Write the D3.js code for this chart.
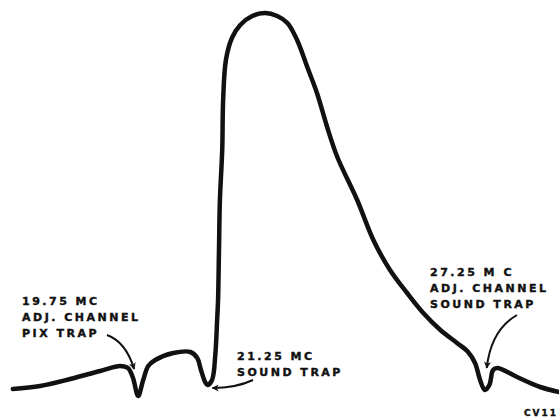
<!DOCTYPE html>
<html>
<head>
<meta charset="utf-8">
<script src="https://cdn.jsdelivr.net/npm/d3@7"></script>
<style>
  body { margin: 0; background: #fff; }
  .label { font-family: "DejaVu Sans", sans-serif; font-weight: bold; font-size: 11px; letter-spacing: 2.5px; fill: #111; stroke: #111; stroke-width: 0.4px; }
</style>
</head>
<body>
<div id="chart"></div>
<script>
// IF response curve, frequency in MC vs relative response
const freqs = [17.04, 17.63, 18.28, 18.93, 19.36, 19.53, 19.64, 19.75, 19.86, 19.97,
  20.12, 20.51, 20.88, 21.03, 21.11, 21.20, 21.25, 21.35, 21.42, 21.46,
  21.48, 21.50, 21.52, 21.57, 21.59, 21.65, 21.78, 21.96, 22.22, 22.50,
  22.76, 22.98, 23.19, 23.41, 23.62, 23.84, 24.06, 24.49, 24.84, 25.20,
  25.57, 25.92, 26.29, 26.65, 26.89, 27.04, 27.15, 27.25, 27.35, 27.43,
  27.52, 27.95, 28.45, 28.86];
const response = [5.25, 6, 7.75, 9.75, 11, 10.5, 8, 3.5, 7.5, 11,
  12.5, 14.25, 14.5, 13, 10, 7, 6.25, 7.5, 13.75, 22.5,
  27.5, 40, 52.5, 65, 77.5, 87.5, 93, 96.25, 98.5, 99.25,
  98.5, 96.75, 92.5, 85.75, 79.25, 70.75, 63.25, 52.5, 42.5, 35,
  29.25, 24.25, 20, 16.75, 14.5, 11.75, 7.5, 5, 6.25, 10,
  10.5, 8.25, 5.75, 4.5];

const trapFreqs = [19.75, 21.25, 27.25];
const trapLabels = [
  ["19.75 MC", "ADJ. CHANNEL", "PIX TRAP"],
  ["21.25 MC", "SOUND TRAP"],
  ["27.25 M C", "ADJ. CHANNEL", "SOUND TRAP"]
];

const width = 559, height = 417;

const x = d3.scaleLinear().domain([17.0, 28.9]).range([11, 561]);
const y = d3.scaleLinear().domain([0, 100]).range([410, 10]);

const svg = d3.select("#chart").append("svg")
    .attr("width", width)
    .attr("height", height);

svg.append("defs").append("marker")
    .attr("id", "head")
    .attr("viewBox", "0 0 10 10")
    .attr("refX", 9)
    .attr("refY", 5)
    .attr("markerWidth", 9)
    .attr("markerHeight", 7)
    .attr("markerUnits", "userSpaceOnUse")
    .attr("orient", "auto")
  .append("path")
    .attr("d", "M0,0 L10,5 L0,10 L3,5 Z")
    .attr("fill", "#111");

const line = d3.line()
    .x((d, i) => x(freqs[i]))
    .y(d => y(d))
    .curve(d3.curveCatmullRom.alpha(0.5));

svg.append("path")
    .datum(response)
    .attr("d", line)
    .attr("fill", "none")
    .attr("stroke", "#111")
    .attr("stroke-width", 4.5)
    .attr("stroke-linejoin", "round")
    .attr("stroke-linecap", "round");

// label blocks: [text x, first baseline]
const labelPos = [[22, 305], [237, 360], [430, 276]];
const lineGap = 16;

trapLabels.forEach((lines, k) => {
  const t = svg.append("text")
      .attr("class", "label")
      .attr("x", labelPos[k][0])
      .attr("y", labelPos[k][1]);
  lines.forEach((s, j) => {
    t.append("tspan")
        .attr("x", labelPos[k][0])
        .attr("dy", j === 0 ? 0 : lineGap)
        .text(s);
  });
});

// arrows from labels to traps
const arrows = [
  { from: [107, 335], ctrl: [126, 342], to: [x(trapFreqs[0]) - 4, 369] },
  { from: [253, 380], ctrl: [236, 388], to: [x(trapFreqs[1]) + 5, 388] },
  { from: [517, 315], ctrl: [491, 330], to: [x(trapFreqs[2]) + 2, 368] }
];

svg.selectAll(".arrow")
  .data(arrows)
  .enter()
  .append("path")
    .attr("class", "arrow")
    .attr("d", d => "M" + d.from + " Q" + d.ctrl + " " + d.to)
    .attr("fill", "none")
    .attr("stroke", "#111")
    .attr("stroke-width", 2)
    .attr("marker-end", "url(#head)");

svg.append("text")
    .attr("class", "label")
    .attr("x", 524)
    .attr("y", 416)
    .style("font-size", "9px")
    .style("letter-spacing", "2px")
    .text("CV11");
</script>
</body>
</html>
